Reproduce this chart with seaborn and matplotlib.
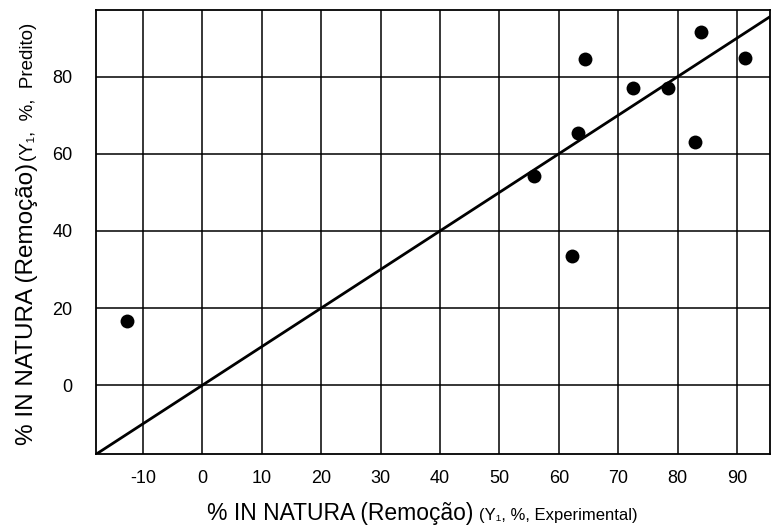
import matplotlib
matplotlib.use("Agg")
import matplotlib.pyplot as plt
import seaborn as sns
import pandas as pd

# Data
experimental = [-12.7, 55.9, 62.3, 63.2, 64.4, 72.5, 78.4, 83.0, 83.9, 91.4]
predicted = [16.6, 54.2, 33.6, 65.3, 84.6, 77.0, 77.0, 63.2, 91.7, 84.9]
identity_x = [-18, 97]
identity_y = [-18, 97]
x_ticks = [-10, 0, 10, 20, 30, 40, 50, 60, 70, 80, 90]
y_ticks = [0, 20, 40, 60, 80]

sns.set_style("white")
plt.rcParams['font.family'] = ['Liberation Sans', 'DejaVu Sans']

fig = plt.figure(figsize=(7.71, 5.25), dpi=100)
ax = fig.add_axes([96/771, (525-453.5)/525, 1 - 96/771 - 0.001, (453.5-10)/525])

df = pd.DataFrame({"x": experimental, "y": predicted})
line_df = pd.DataFrame({"x": identity_x, "y": identity_y})

sns.lineplot(data=line_df, x="x", y="y", ax=ax, color="black", linewidth=2.0, zorder=3)
sns.scatterplot(data=df, x="x", y="y", ax=ax, color="black", s=100, edgecolor="black",
                linewidth=0, zorder=4)

ax.set_xlim(-17.9, 95.6)
ax.set_ylim(-17.7, 97.3)
ax.set_xticks(x_ticks)
ax.set_yticks(y_ticks)
ax.set_xticklabels([str(t) for t in x_ticks], fontsize=13)
ax.set_yticklabels([str(t) for t in y_ticks], fontsize=13)
ax.grid(True, color="black", linewidth=1.1)
ax.set_axisbelow(True)
for sp in ax.spines.values():
    sp.set_color("black")
    sp.set_linewidth(1.3)
ax.tick_params(axis="both", direction="out", length=6, width=1.1, color="black",
               labelcolor="black")
ax.tick_params(axis="x", pad=6)
ax.tick_params(axis="y", pad=11)
ax.set_xlabel("")
ax.set_ylabel("")

# Mixed-size axis labels
fig.text(473/771, 1 - 520/525, "% IN NATURA (Remoção)", ha="right", va="baseline",
         fontsize=16.5, color="black")
fig.text(479/771, 1 - 520/525, "(Y\u2081, %, Experimental)", ha="left", va="baseline",
         fontsize=12, color="black")
fig.text(33/771, 1 - 163/525, "% IN NATURA (Remoção)", ha="right", va="baseline",
         rotation=90, rotation_mode="anchor", fontsize=17.5, color="black")
fig.text(33/771, 1 - 161/525, "(Y\u2081,  %,  Predito)", ha="left", va="baseline",
         rotation=90, rotation_mode="anchor", fontsize=13.5, color="black")

fig.savefig("out.png", dpi=100)
